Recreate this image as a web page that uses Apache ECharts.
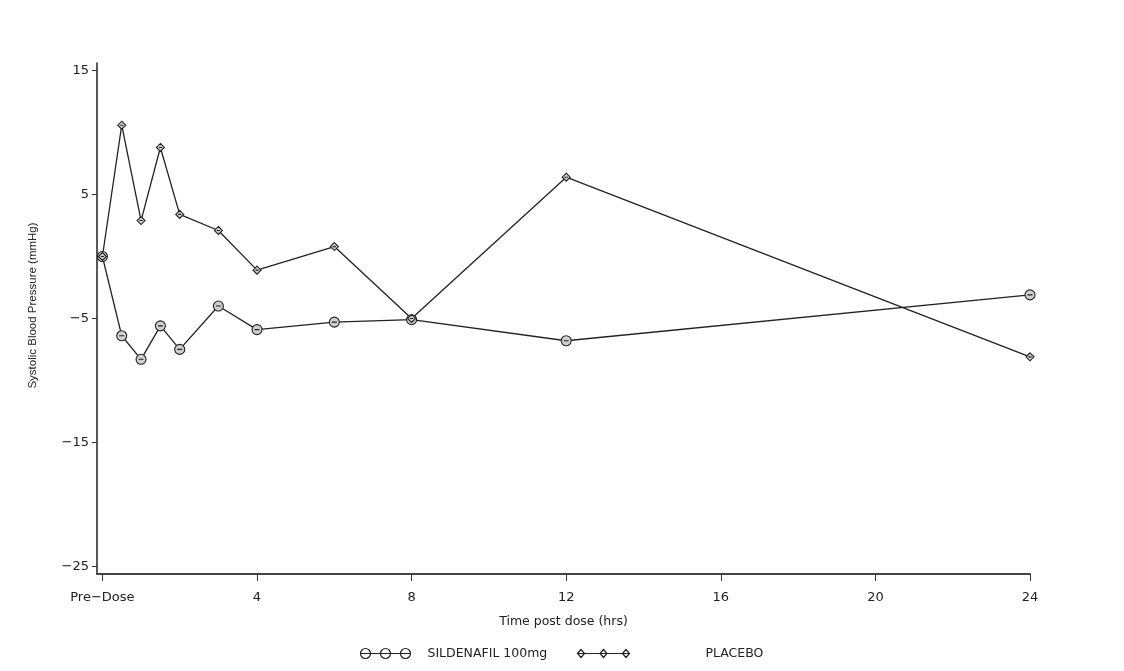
<!DOCTYPE html>
<html>
<head>
<meta charset="utf-8">
<script src="https://cdn.jsdelivr.net/npm/echarts@6/dist/echarts.min.js"></script>
<style>
html,body{margin:0;padding:0;background:#fff;}
#chart{width:1124px;height:671px;}
</style>
</head>
<body>
<div id="chart"></div>
<script>
// ---- data ----
var timesHrs = [0, 0.5, 1, 1.5, 2, 3, 4, 6, 8, 12, 24];
var sildenafil = [0, -6.4, -8.3, -5.6, -7.5, -4.0, -5.9, -5.3, -5.1, -6.8, -3.1];
var placebo = [0, 10.6, 2.9, 8.8, 3.4, 2.1, -1.1, 0.8, -5.0, 6.4, -8.1];
var xTicks = [0, 4, 8, 12, 16, 20, 24];
var xTickLabels = ['Pre\u2212Dose', '4', '8', '12', '16', '20', '24'];
var yTicks = [-25, -15, -5, 5, 15];
var yTickLabels = ['\u221225', '\u221215', '\u22125', '5', '15'];
var seriesNames = ['SILDENAFIL 100mg', 'PLACEBO'];

function pairs(xs, ys) { return xs.map(function (x, i) { return [x, ys[i]]; }); }

var circleSym = 'path://M0,5 A5,5 0 1,1 10,5 A5,5 0 1,1 0,5 Z M2.5,5 L7.5,5';
var diamondSym = 'path://M5,0 L10,5 L5,10 L0,5 Z M3,5 L7,5';
var legendCircles = 'path://M0,5 A5,5 0 1,1 10,5 A5,5 0 1,1 0,5 Z M20,5 A5,5 0 1,1 30,5 A5,5 0 1,1 20,5 Z M40,5 A5,5 0 1,1 50,5 A5,5 0 1,1 40,5 Z M0,5 L50,5';
var legendDiamonds = 'path://M0,4 L3.5,0 L7,4 L3.5,8 Z M22.5,4 L26,0 L29.5,4 L26,8 Z M45,4 L48.5,0 L52,4 L48.5,8 Z M0,4 L52,4';

var font = 'DejaVu Sans';
var chart = echarts.init(document.getElementById('chart'), null, {renderer: 'canvas'});
chart.setOption({
  animation: false,
  backgroundColor: '#fff',
  grid: {left: 97, right: 94, top: 63, bottom: 97, containLabel: false},
  xAxis: {
    type: 'value', min: -0.14, max: 24,
    name: 'Time post dose (hrs)', nameLocation: 'middle', nameGap: 41,
    nameTextStyle: {fontFamily: font, fontSize: 12.5, color: '#222'},
    axisLine: {onZero: false, lineStyle: {color: '#444', width: 2}},
    axisTick: {show: true, length: 7, lineStyle: {color: '#333', width: 1}, customValues: xTicks},
    axisLabel: {
      margin: 17, fontFamily: font, fontSize: 13, color: '#222',
      customValues: xTicks,
      formatter: function (v) { var i = xTicks.indexOf(v); return i >= 0 ? xTickLabels[i] : ''; }
    },
    splitLine: {show: false}
  },
  yAxis: {
    type: 'value', min: -25.63, max: 15.62,
    name: 'Systolic Blood Pressure (mmHg)', nameLocation: 'middle', nameGap: 58, nameRotate: 90,
    nameTextStyle: {fontFamily: 'Liberation Sans', fontSize: 11.5, color: '#222', padding: [0, 0, 0, 26]},
    axisLine: {show: true, onZero: false, lineStyle: {color: '#222', width: 1.5}},
    axisTick: {show: true, length: 5, lineStyle: {color: '#333', width: 1}, customValues: yTicks},
    axisLabel: {
      margin: 8, fontFamily: font, fontSize: 13, color: '#222',
      customValues: yTicks,
      formatter: function (v) { var i = yTicks.indexOf(v); return i >= 0 ? yTickLabels[i] : ''; }
    },
    splitLine: {show: false}
  },
  legend: [
    {
      left: 353, top: 641, itemWidth: 50, itemHeight: 10, itemGap: 0,
      data: [{name: seriesNames[0], icon: legendCircles}],
      itemStyle: {color: 'none', borderColor: '#222', borderWidth: 1.2},
      textStyle: {fontFamily: font, fontSize: 12.5, color: '#222', padding: [0, 0, 0, 12]},
      selectedMode: false
    },
    {
      left: 570, top: 642, itemWidth: 52, itemHeight: 8, itemGap: 0,
      data: [{name: seriesNames[1], icon: legendDiamonds}],
      itemStyle: {color: 'none', borderColor: '#222', borderWidth: 1.2},
      textStyle: {fontFamily: font, fontSize: 12.5, color: '#222', padding: [0, 0, 0, 71]},
      selectedMode: false
    }
  ],
  series: [
    {
      name: seriesNames[0], type: 'line', data: pairs(timesHrs, sildenafil),
      symbol: circleSym, symbolSize: 10, showAllSymbol: true,
      lineStyle: {color: '#222', width: 1.3},
      itemStyle: {color: '#cfcfcf', borderColor: '#222', borderWidth: 1.1}
    },
    {
      name: seriesNames[1], type: 'line', data: pairs(timesHrs, placebo),
      symbol: diamondSym, symbolSize: 8, showAllSymbol: true,
      lineStyle: {color: '#222', width: 1.3},
      itemStyle: {color: '#cfcfcf', borderColor: '#222', borderWidth: 1.1}
    }
  ]
});
</script>
</body>
</html>
